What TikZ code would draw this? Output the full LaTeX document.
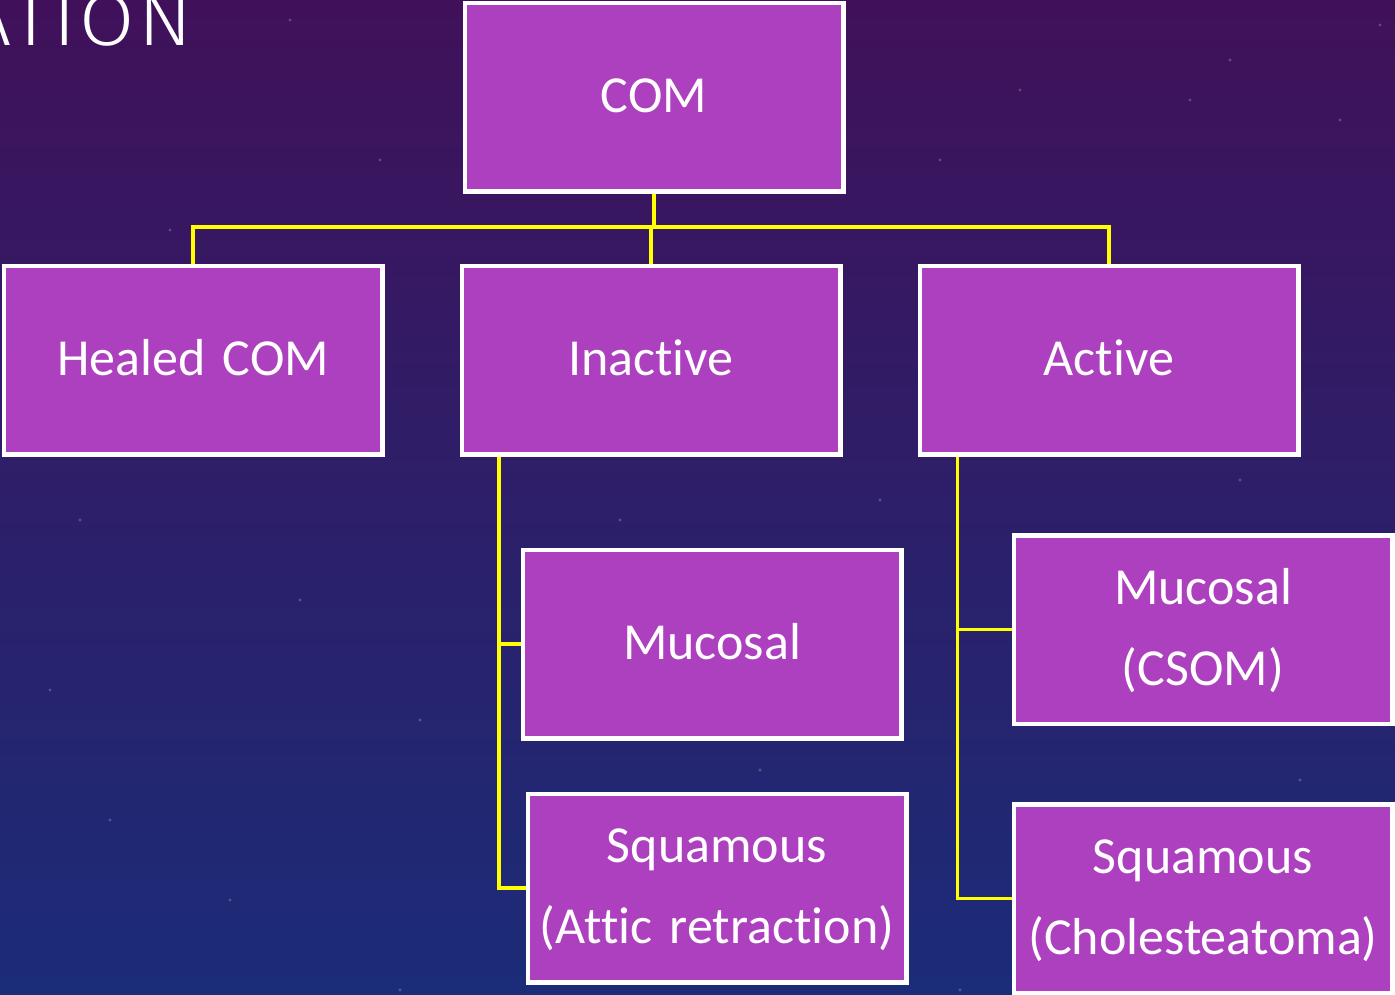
\documentclass[tikz,border=0pt]{standalone}
\usepackage{fontspec}
\setmainfont{Carlito}[Ligatures={NoCommon,NoContextual},Contextuals=NoAlternate]
\newfontfamily\titlefont{Fira Sans Light}[LetterSpace=4]
\definecolor{boxfill}{RGB}{173,64,191}
\definecolor{linkyellow}{RGB}{255,255,0}
\definecolor{bgtop}{RGB}{64,17,90}
\definecolor{bgmid}{RGB}{46,28,104}
\definecolor{bgbot}{RGB}{27,44,120}
\begin{document}
\begin{tikzpicture}[x=1pt,y=-1pt,
  box/.style={draw=white,line width=3pt,fill=boxfill,minimum width=377pt,minimum height=187pt,inner sep=0pt},
  txt/.style={text=white,inner sep=0pt,anchor=base,text width=377pt,align=center,font=\fontsize{52}{81}\selectfont},
  link/.style={draw=linkyellow,line width=3.5pt}]
\useasboundingbox (0,0) rectangle (1395,994);
\clip (0,0) rectangle (1395,994);
\shade[top color=bgtop,middle color=bgmid,bottom color=bgbot] (0,0) rectangle (1395,994);
\foreach \sx/\sy in {290/20,380/160,1020/90,1230/60,1340/120,1190/100,940/160,170/230,80/520,300/600,420/720,230/900,110/820,880/500,1240/480,1300/780,960/990,620/520,760/770,400/990,1380/25,50/690}
  \fill[white,opacity=0.22] (\sx,\sy) circle (1.6);
\node[anchor=base east,inner sep=0pt,text=white,font=\titlefont\fontsize{74}{74}\selectfont] (title) at (192,45) {\scalebox{1.08}[1]{ATION}};
% boxes
\node[box] (com) at (654,97) {};
\node[box] (healed) at (193,360) {};
\node[box] (inactive) at (651,360) {};
\node[box] (active) at (1109,360) {};
\node[box] (muc1) at (712,644) {};
\node[box] (sq1) at (717,888) {};
\node[box] (muc2) at (1203,629.5) {};
\node[box] (sq2) at (1203,898.5) {};
% texts
\node[txt] (comt) at ([yshift=-15pt]com.center) {COM};
\node[txt] (healedt) at ([yshift=-15pt]healed.center) {Healed COM};
\node[txt] (inactivet) at ([yshift=-15pt]inactive.center) {Inactive};
\node[txt] (activet) at ([yshift=-15pt]active.center) {Active};
\node[txt] (muc1t) at ([yshift=-15pt]muc1.center) {Mucosal};
\node[txt] (sq1t) at ([yshift=25.5pt]sq1.center) {Squamous\\(Attic retraction)};
\node[txt] (muc2t) at ([yshift=25.5pt]muc2.center) {Mucosal\\(CSOM)};
\node[txt] (sq2t) at ([yshift=25.5pt]sq2.center) {Squamous\\(Cholesteatoma)};
% connectors
\coordinate (bus) at (654,227);
\coordinate (ia) at (499,455);
\coordinate (aa) at (957.5,455);
\draw[link] (com.south) -- (bus);
\draw[link] (healed.north) |- (bus) -| (active.north);
\draw[link] (inactive.north) -- (inactive.north |- bus);
\draw[link] (ia) |- (muc1.west);
\draw[link] (ia) |- (sq1.west);
\draw[link] (aa) |- (muc2.west);
\draw[link] (aa) |- (sq2.west);
% redraw box borders above connectors
\foreach \n in {com,healed,inactive,active,muc1,sq1,muc2,sq2}
  \draw[white,line width=3pt] (\n.north west) rectangle (\n.south east);
\end{tikzpicture}
\end{document}
